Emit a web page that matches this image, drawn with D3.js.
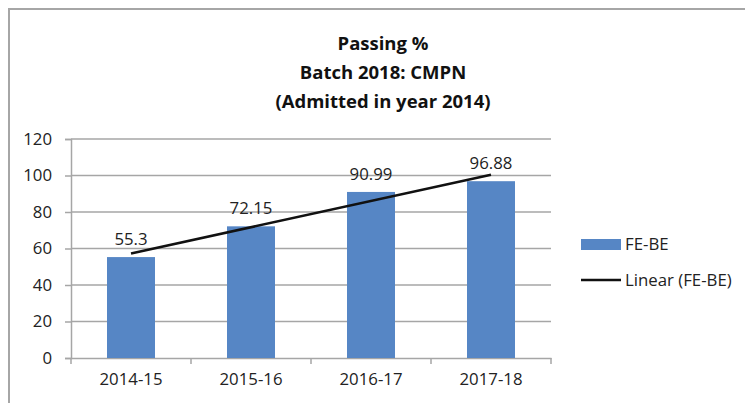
<!DOCTYPE html>
<html><head><meta charset="utf-8">
<script src="https://cdn.jsdelivr.net/npm/d3@7"></script>
<style>body{margin:0;background:#fff;} svg{display:block;}</style>
</head><body>
<svg id="c" width="745" height="403"></svg>
<script>
const categories = ["2014-15","2015-16","2016-17","2017-18"];
const values = [55.3, 72.15, 90.99, 96.88];
const valueLabels = ["55.3","72.15","90.99","96.88"];
const yTicks = [0,20,40,60,80,100,120];
const titleLines = ["Passing %","Batch 2018: CMPN","(Admitted in year 2014)"];
const seriesName = "FE-BE";
const trendName = "Linear (FE-BE)";

(function(){
const svg = d3.select("#c");
const font = "'Open Sans', 'Noto Sans', sans-serif";
const fs = 16.8;
const grid = "#a6a6a6";
const barColor = "#5686c5";
const pL = 71, pR = 551, pT = 139, pB = 358;

// chart border
svg.append("path").attr("d","M9,403 V9 H745").attr("fill","none").attr("stroke","#a6a6a6").attr("stroke-width",2);

// title
svg.append("g").selectAll("text").data(titleLines).join("text")
  .attr("x", 383).attr("y",(d,i)=>50+i*29)
  .attr("text-anchor","middle").attr("font-family",font).attr("font-weight","bold")
  .attr("font-size",18.5).attr("fill","#111").text(d=>d);

const x = d3.scaleBand().domain(categories).range([pL,pR]).paddingInner(0.6).paddingOuter(0.3);
const y = d3.scaleLinear().domain([0,120]).range([pB,pT]);

// gridlines
svg.append("g").selectAll("line").data(yTicks.slice(1)).join("line")
  .attr("x1",pL).attr("x2",pR).attr("y1",d=>y(d)).attr("y2",d=>y(d))
  .attr("stroke",grid).attr("stroke-width",1.5);

// y axis
const yAxis = svg.append("g").attr("transform",`translate(${pL},0)`)
  .call(d3.axisLeft(y).tickValues(yTicks).tickSize(6).tickPadding(13));
yAxis.select(".domain").attr("stroke",grid).attr("stroke-width",1.5);
yAxis.selectAll(".tick line").attr("stroke",grid).attr("stroke-width",1.5);
yAxis.selectAll("text").attr("font-family",font).attr("font-size",fs).attr("fill","#222");

// x axis
const xAxis = svg.append("g").attr("transform",`translate(0,${pB})`)
  .call(d3.axisBottom(x).tickSize(0).tickPadding(15));
xAxis.select(".domain").attr("stroke",grid).attr("stroke-width",1.5);
xAxis.selectAll("text").attr("font-family",font).attr("font-size",fs).attr("fill","#222");
const step = x.step();
const bounds = categories.map((c,i)=>pL + i*step).concat([pR]);
xAxis.selectAll(".bt").data(bounds).join("line").attr("class","bt")
  .attr("x1",d=>d).attr("x2",d=>d).attr("y1",0).attr("y2",6)
  .attr("stroke",grid).attr("stroke-width",1.5);

// bars
svg.append("g").selectAll("rect").data(values).join("rect")
  .attr("x",(d,i)=>x(categories[i])).attr("width",x.bandwidth())
  .attr("y",d=>y(d)).attr("height",d=>pB-y(d)).attr("fill",barColor);

// linear trendline (least squares)
const n = values.length;
const xs = values.map((d,i)=>i+1);
const mx = d3.mean(xs), my = d3.mean(values);
const slope = d3.sum(xs.map((xi,i)=>(xi-mx)*(values[i]-my))) / d3.sum(xs.map(xi=>(xi-mx)**2));
const icpt = my - slope*mx;
const cx = i => x(categories[i]) + x.bandwidth()/2;
svg.append("line")
  .attr("x1",cx(0)).attr("y1",y(icpt+slope*1))
  .attr("x2",cx(n-1)).attr("y2",y(icpt+slope*n))
  .attr("stroke","#111").attr("stroke-width",2.5);

// value labels
svg.append("g").selectAll("text").data(values).join("text")
  .attr("x",(d,i)=>cx(i)).attr("y",d=>y(d)-12)
  .attr("text-anchor","middle").attr("font-family",font).attr("font-size",fs).attr("fill","#222")
  .text((d,i)=>valueLabels[i]);

// legend
const lg = svg.append("g");
lg.append("rect").attr("x",581).attr("y",239).attr("width",40).attr("height",11).attr("fill",barColor);
lg.append("text").attr("x",625).attr("y",250).attr("font-family",font).attr("font-size",fs).attr("fill","#222").text(seriesName);
lg.append("line").attr("x1",581).attr("x2",621).attr("y1",280).attr("y2",280).attr("stroke","#111").attr("stroke-width",2.5);
lg.append("text").attr("x",625).attr("y",286).attr("font-family",font).attr("font-size",fs).attr("fill","#222").text(trendName);
})();
</script>
</body></html>
